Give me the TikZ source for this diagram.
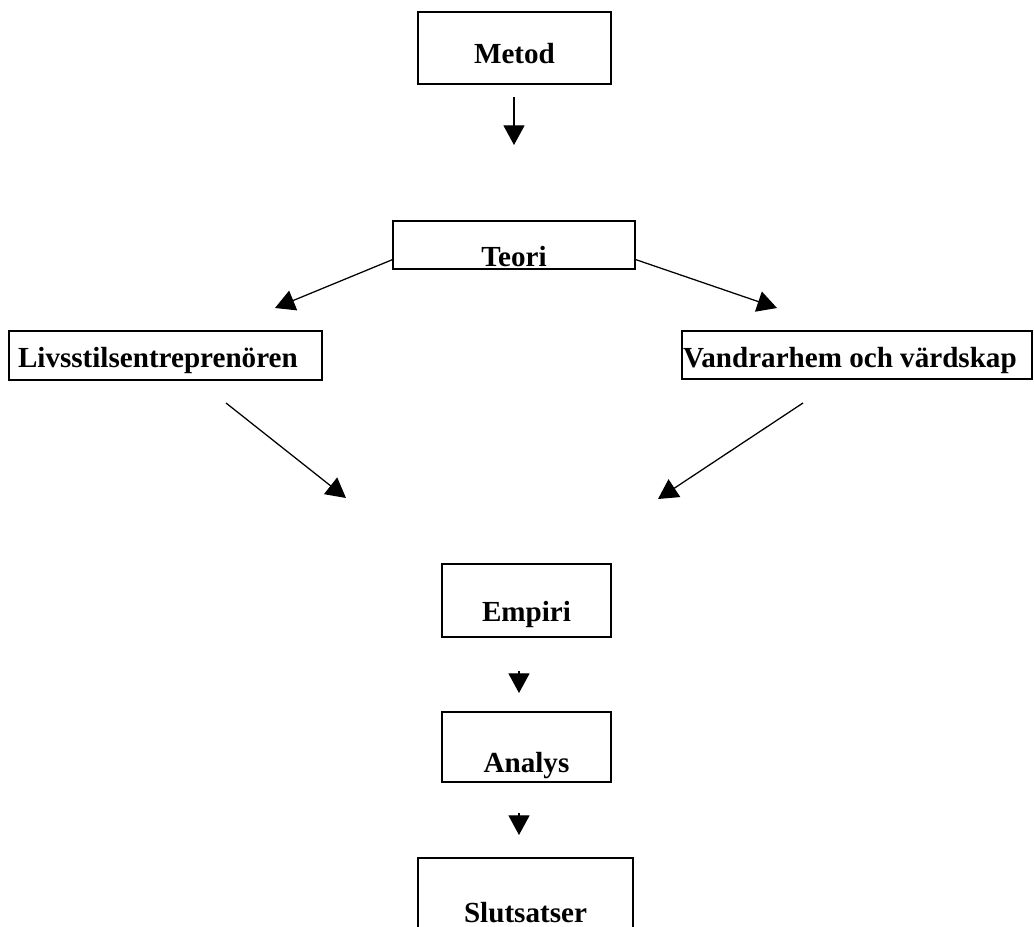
\documentclass[tikz,border=0pt]{standalone}
\usepackage{fontspec}
\setmainfont{Liberation Serif}
\usepackage{tikz}
\usetikzlibrary{arrows.meta}

\begin{document}
\begin{tikzpicture}[x=0.025cm,y=-0.025cm,
	box/.style={draw,line width=0.9pt,inner sep=0pt,font=\bfseries\fontsize{20.7}{24}\selectfont},
	arr/.style={line width=0.9pt,-{Triangle[length=14pt,width=15pt]}}]
	    \useasboundingbox (0,0) rectangle (1034,927);
	    % boxes (x = centre, y = baseline of the text)
	    \node[box,anchor=base,minimum width=193*0.025cm,text height=51*0.025cm,text depth=21*0.025cm] (metod) at (514.5,63) {Metod};
	    \node[box,anchor=base,minimum width=242*0.025cm,text height=45*0.025cm,text depth=3*0.025cm] (teori) at (514,266) {Teori};
	    \node[box,anchor=base,inner xsep=9*0.025cm,text width=295*0.025cm,align=flush left,text height=36*0.025cm,text depth=13*0.025cm] (livs) at (165.5,367) {Livsstilsentreprenören};
	    \node[box,anchor=base,inner xsep=1*0.025cm,text width=348*0.025cm,align=flush left,text height=36*0.025cm,text depth=12*0.025cm] (vand) at (857,367) {Vandrarhem och värdskap};
	    \node[box,anchor=base,minimum width=169*0.025cm,text height=57*0.025cm,text depth=16*0.025cm] (empiri) at (526.5,621) {Empiri};
	    \node[box,anchor=base,minimum width=169*0.025cm,text height=60*0.025cm,text depth=10*0.025cm] (analys) at (526.5,772) {Analys};
	    \node[box,anchor=base,minimum width=215*0.025cm,text height=64*0.025cm,text depth=20*0.025cm] (slut) at (525.5,922) {Slutsatser};
	    % free ends of the arrows
	    \coordinate (m0) at (514,97);
	    \coordinate (m1) at (514,145);
	    \coordinate (tl) at (394,259);
	    \coordinate (tr) at (634,259);
	    \coordinate (livsin) at (275,308);
	    \coordinate (vandin) at (777,308);
	    \coordinate (livsout) at (226,403);
	    \coordinate (vandout) at (803,403);
	    \coordinate (tipl) at (346,498);
	    \coordinate (tipr) at (658,499);
	    \coordinate (e0) at (519,671);
	    \coordinate (e1) at (519,693);
	    \coordinate (a0) at (519,813);
	    \coordinate (a1) at (519,835);
	    % arrows
	    \draw[arr] (m0) -- (m1);
	    \draw[arr] (tl) -- (livsin);
	    \draw[arr] (tr) -- (vandin);
	    \draw[arr] (livsout) -- (tipl);
	    \draw[arr] (vandout) -- (tipr);
	    \draw[arr] (e0) -- (e1);
	    \draw[arr] (a0) -- (a1);
	\end{tikzpicture}
\end{document}
